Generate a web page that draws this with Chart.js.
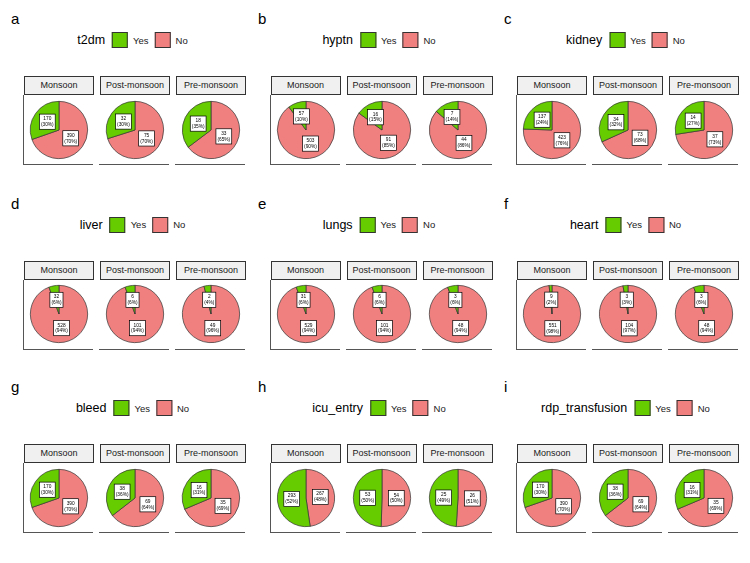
<!DOCTYPE html>
<html><head><meta charset="utf-8">
<script src="https://cdn.jsdelivr.net/npm/chart.js@4.4.1/dist/chart.umd.min.js"></script>
<style>
body{margin:0;width:750px;height:563px;overflow:hidden;background:#fff;font-family:"Liberation Sans",Arial,sans-serif;position:relative}
.abs{position:absolute}
.letter{font-size:15px;line-height:15px;color:#000}
.legend{display:flex;align-items:center;white-space:nowrap;height:16px;transform:translateX(-50%)}
.ltitle{font-size:12.5px;color:#000;margin-right:7px}
.key{width:16px;height:16px;border:1px solid #333;box-sizing:border-box}
.ltext{font-size:9.5px;color:#1a1a1a;margin-left:5px;margin-right:6px}
.strip{background:#f0f0f0;border:1px solid #333;box-sizing:border-box;font-size:9px;line-height:17px;color:#1a1a1a;text-align:center;height:19px;width:70px}
.axis{background:#555}
</style></head><body>
<script>
// ---- data ----
const seasons = ["Monsoon", "Post-monsoon", "Pre-monsoon"];
const panelLetters = ["a", "b", "c", "d", "e", "f", "g", "h", "i"];
const variables = ["t2dm", "hyptn", "kidney", "liver", "lungs", "heart", "bleed", "icu_entry", "rdp_transfusion"];
const legendLabels = ["Yes", "No"];
const yesCounts = [[170,32,18],[57,16,7],[137,34,14],[32,6,2],[31,6,3],[9,3,3],[170,38,16],[293,53,25],[170,38,16]];
const noCounts  = [[390,75,33],[503,91,44],[423,73,37],[528,101,49],[529,101,48],[551,104,48],[390,69,35],[267,54,26],[390,69,35]];
const yesPct = [[30,30,35],[10,15,14],[24,32,27],[6,6,4],[6,6,6],[2,3,6],[30,36,31],[52,50,49],[30,36,31]];
const noPct  = [[70,70,65],[90,85,86],[76,68,73],[94,94,96],[94,94,94],[98,97,94],[70,64,69],[48,50,51],[70,64,69]];

// ---- style / layout ----
const YES_COLOR = "#66CC00", NO_COLOR = "#F08080";
const colX = [24, 270.5, 517];
const rowY = [0, 184.5, 368];
const letterX = [11, 258, 504];
const FACET_W = 70, FACET_STEP = 76;

const pieLabels = {
  id: 'pieLabels',
  afterDatasetsDraw(chart) {
    const ctx = chart.ctx;
    const meta = chart.getDatasetMeta(0);
    const texts = chart.options.plugins.pieLabels.texts;
    ctx.save();
    ctx.font = '4.8px "Liberation Sans", Arial, sans-serif';
    ctx.textAlign = 'center';
    ctx.textBaseline = 'middle';
    meta.data.forEach((arc, k) => {
      const p = arc.getProps(['x','y','startAngle','endAngle','outerRadius'], true);
      const mid = (p.startAngle + p.endAngle) / 2;
      const r = p.outerRadius * 0.5;
      const cx = p.x + Math.cos(mid) * r, cy = p.y + Math.sin(mid) * r;
      const lines = texts[k];
      const w = Math.max(...lines.map(t => ctx.measureText(t).width)) + 3;
      const lh = 5.8, h = lh * lines.length + 3.6;
      ctx.fillStyle = '#fff';
      ctx.fillRect(cx - w/2, cy - h/2, w, h);
      ctx.strokeStyle = '#000';
      ctx.lineWidth = 0.7;
      ctx.strokeRect(cx - w/2, cy - h/2, w, h);
      ctx.fillStyle = '#000';
      lines.forEach((t, j) => ctx.fillText(t, cx, cy - h/2 + 1.8 + lh * (j + 0.5)));
    });
    ctx.restore();
  }
};

function add(el, cls, css, txt) {
  const d = document.createElement(el);
  if (cls) d.className = cls;
  Object.assign(d.style, css);
  if (txt !== undefined) d.textContent = txt;
  document.body.appendChild(d);
  return d;
}

for (let p = 0; p < 9; p++) {
  const col = p % 3, row = Math.floor(p / 3);
  const x0 = colX[col], y0 = rowY[row];
  add('div', 'abs letter', {left: letterX[col] + 'px', top: (y0 + 11) + 'px'}, panelLetters[p]);
  const lg = add('div', 'abs legend', {left: (x0 + 111.5) + 'px', top: (y0 + 32) + 'px'});
  const t = document.createElement('span'); t.className = 'ltitle'; t.textContent = variables[p]; lg.appendChild(t);
  [YES_COLOR, NO_COLOR].forEach((c, k) => {
    const b = document.createElement('span'); b.className = 'key'; b.style.background = c; lg.appendChild(b);
    const s = document.createElement('span'); s.className = 'ltext'; s.textContent = legendLabels[k]; lg.appendChild(s);
  });
  for (let f = 0; f < 3; f++) {
    const fx = x0 + f * FACET_STEP;
    add('div', 'abs strip', {left: fx + 'px', top: (y0 + 76) + 'px'}, seasons[f]);
    add('div', 'abs axis', {left: (fx - 1) + 'px', top: (y0 + 164) + 'px', width: FACET_W + 'px', height: '1px'});
    if (f === 0) add('div', 'abs axis', {left: (fx - 1) + 'px', top: (y0 + 95) + 'px', width: '1px', height: '70px'});
    const cv = add('canvas', 'abs', {left: fx + 'px', top: (y0 + 129.5 - 35) + 'px'});
    cv.width = 70; cv.height = 70;
    new Chart(cv, {
      type: 'pie',
      data: {
        labels: ["No", "Yes"],
        datasets: [{
          data: [noCounts[p][f], yesCounts[p][f]],
          backgroundColor: [NO_COLOR, YES_COLOR],
          borderColor: '#333',
          borderWidth: 0.7
        }]
      },
      options: {
        responsive: false,
        animation: false,
        events: [],
        layout: {padding: 6},
        plugins: {
          legend: {display: false},
          tooltip: {enabled: false},
          pieLabels: {texts: [
            [String(noCounts[p][f]), '(' + noPct[p][f] + '%)'],
            [String(yesCounts[p][f]), '(' + yesPct[p][f] + '%)']
          ]}
        }
      },
      plugins: [pieLabels]
    });
  }
}
</script>
</body></html>
